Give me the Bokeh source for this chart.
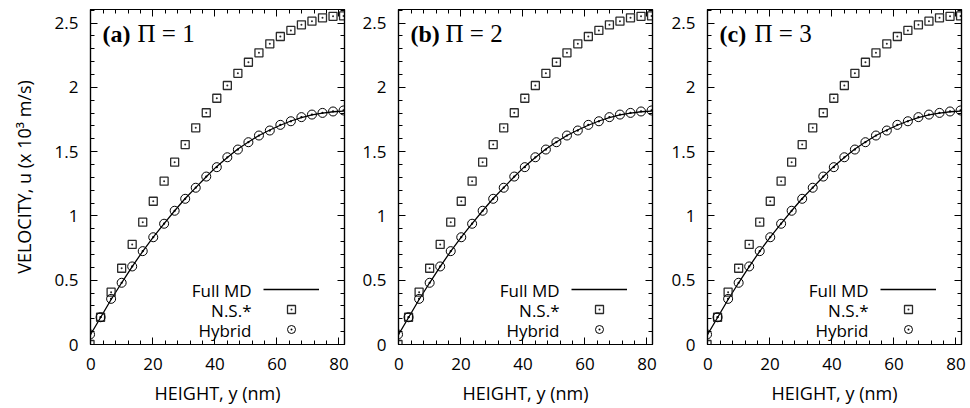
from bokeh.plotting import figure
from bokeh.models import (Range1d, LinearAxis, SingleIntervalTicker, NumeralTickFormatter,
                          Legend, LegendItem, Label)
from bokeh.layouts import row
from bokeh.embed import file_html
from bokeh.resources import INLINE

# ---------------- data ----------------
height_nm = [-0.3, 3.1, 6.5, 9.9, 13.3, 16.7, 20.1, 23.6, 27.0, 30.4, 33.8, 37.2, 40.6,
             44.0, 47.4, 50.8, 54.2, 57.7, 61.1, 64.5, 67.9, 71.3, 74.7, 78.1, 81.5]

u_ns = [0.0, 0.212, 0.407, 0.593, 0.778, 0.951, 1.114, 1.27, 1.418, 1.555, 1.685, 1.802, 1.915,
        2.014, 2.109, 2.195, 2.268, 2.338, 2.395, 2.442, 2.486, 2.514, 2.54, 2.552, 2.555]

u_hybrid = [0.078, 0.212, 0.355, 0.48, 0.607, 0.726, 0.834, 0.939, 1.04, 1.133, 1.219, 1.306, 1.379,
            1.456, 1.516, 1.573, 1.625, 1.664, 1.708, 1.736, 1.768, 1.788, 1.801, 1.812, 1.82]

u_md = [0.07, 0.21, 0.35, 0.48, 0.605, 0.725, 0.835, 0.94, 1.04, 1.135, 1.22, 1.305, 1.385,
        1.455, 1.52, 1.575, 1.625, 1.668, 1.705, 1.738, 1.765, 1.786, 1.8, 1.81, 1.815]

panel_tags = ["(a)", "(b)", "(c)"]
panel_pi = ["Π = 1", "Π = 2", "Π = 3"]
legend_names = ["Full MD", "N.S.*", "Hybrid"]

x_title = "HEIGHT, y (nm)"
y_title = "VELOCITY, u (x 10³ m/s)"

SANS = "Open Sans"
SERIF = "Liberation Serif"
FS = "17px"

borders = [(90, 8), (46, 8), (47, 9)]


def style_axis(ax, interval, show_labels):
    ax.ticker = SingleIntervalTicker(interval=interval, num_minor_ticks=5)
    ax.major_tick_in = 7
    ax.major_tick_out = 0
    ax.minor_tick_in = 4
    ax.minor_tick_out = 0
    ax.axis_line_color = "black"
    ax.axis_line_width = 1.2
    ax.major_tick_line_color = "black"
    ax.minor_tick_line_color = "black"
    ax.major_tick_line_width = 1
    ax.minor_tick_line_width = 1
    if show_labels:
        ax.major_label_text_font = SANS
        ax.major_label_text_font_size = FS
        ax.major_label_text_color = "black"
    else:
        ax.major_label_text_font_size = "0px"
        ax.major_label_text_color = None
        ax.major_label_standoff = 0


def make_panel(i):
    bl, br = borders[i]
    p = figure(frame_width=254, frame_height=335,
               x_range=Range1d(-0.15, 81.8), y_range=Range1d(0, 2.605),
               x_axis_type=None, y_axis_type=None,
               output_backend="svg", toolbar_location=None,
               min_border_left=bl, min_border_right=br,
               min_border_top=9, min_border_bottom=64)
    p.outline_line_color = "black"
    p.outline_line_width = 1.2
    p.background_fill_color = "white"
    p.border_fill_color = "white"

    xb = LinearAxis()
    style_axis(xb, 20, True)
    xb.major_label_standoff = 13
    xb.axis_label = x_title
    xb.axis_label_text_font = SANS
    xb.axis_label_text_font_size = "18px"
    xb.axis_label_text_font_style = "normal"
    xb.axis_label_text_color = "black"
    xb.axis_label_standoff = 8
    p.add_layout(xb, "below")

    xa = LinearAxis()
    style_axis(xa, 20, False)
    p.add_layout(xa, "above")

    yl = LinearAxis()
    style_axis(yl, 0.5, True)
    yl.formatter = NumeralTickFormatter(format="0.[0]")
    yl.major_label_standoff = 12
    if i == 0:
        yl.axis_label = y_title
        yl.axis_label_text_font = SANS
        yl.axis_label_text_font_size = "18px"
        yl.axis_label_text_font_style = "normal"
        yl.axis_label_text_color = "black"
        yl.axis_label_standoff = 16
    p.add_layout(yl, "left")

    yr = LinearAxis()
    style_axis(yr, 0.5, False)
    p.add_layout(yr, "right")

    r_md = p.line(height_nm, u_md, line_color="black", line_width=1.3)
    r_ns = p.scatter(height_nm, u_ns, marker="square_dot", size=8,
                     line_color="#2a2a2a", line_width=1.3, fill_color=None)
    r_hy = p.scatter(height_nm, u_hybrid, marker="circle_dot", size=9,
                     line_color="black", line_width=1, fill_color=None)

    legend = Legend(items=[LegendItem(label=" ", renderers=[r_md]),
                           LegendItem(label=" ", renderers=[r_ns]),
                           LegendItem(label=" ", renderers=[r_hy])],
                    location=(173, 5), glyph_width=56, glyph_height=20,
                    label_height=20, label_width=0, label_standoff=0,
                    padding=0, spacing=0, margin=0,
                    border_line_color=None, background_fill_alpha=0,
                    label_text_font_size="1px")
    p.add_layout(legend)

    for k, name in enumerate(legend_names):
        p.add_layout(Label(x=161, y=54 - 20 * k, x_units="screen", y_units="screen",
                           text=name, text_align="right", text_baseline="middle",
                           text_font=SANS, text_font_size=FS, text_color="black"))

    p.add_layout(Label(x=12, y=311, x_units="screen", y_units="screen",
                       text=panel_tags[i], text_align="left", text_baseline="middle",
                       text_font=SERIF, text_font_size="24px",
                       text_font_style="bold", text_color="black"))
    p.add_layout(Label(x=47, y=311, x_units="screen", y_units="screen",
                       text=panel_pi[i], text_align="left", text_baseline="middle",
                       text_font=SERIF, text_font_size="25px",
                       text_color="black"))
    return p


panels = [make_panel(i) for i in range(3)]
layout = row(*panels, spacing=0)

open("out.html", "w").write(file_html(layout, INLINE))
